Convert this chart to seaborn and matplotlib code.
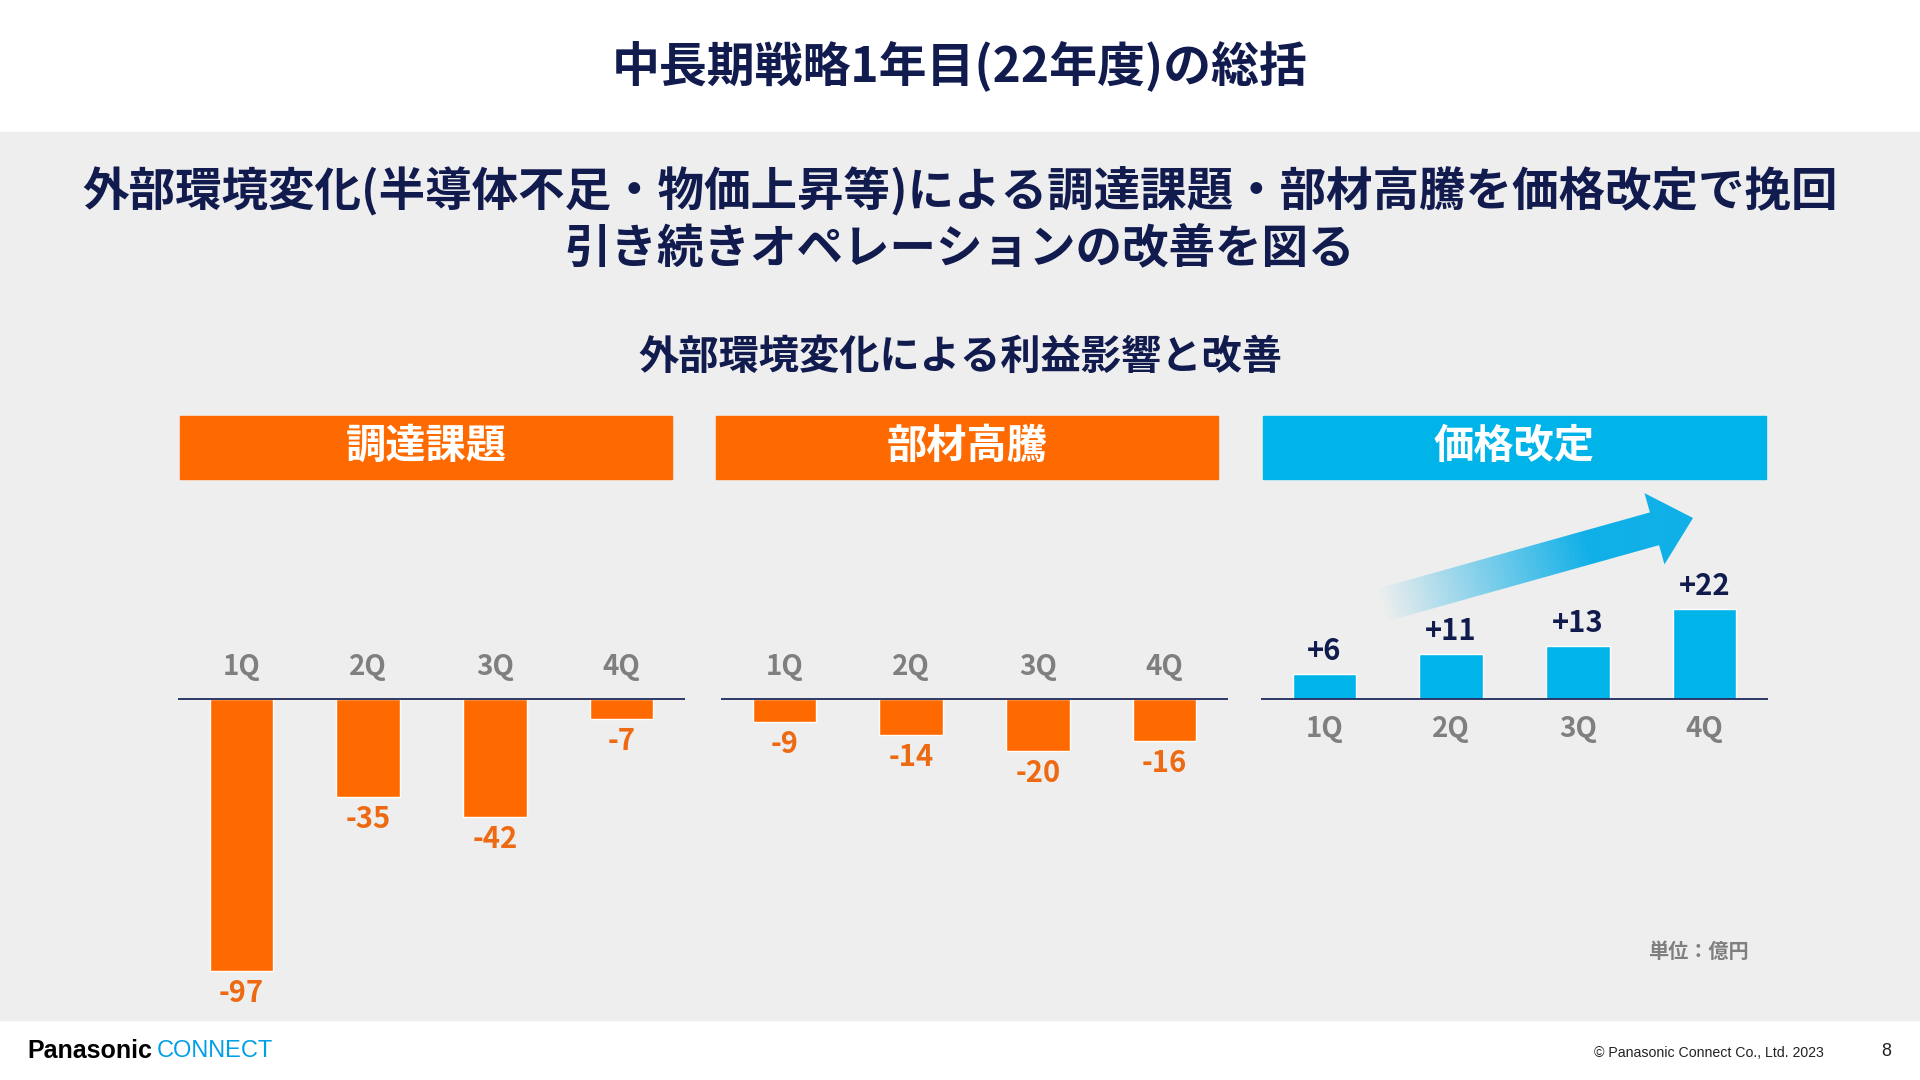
import numpy as np
import pandas as pd
import seaborn as sns
import matplotlib.pyplot as plt
from matplotlib.patches import Rectangle, Polygon

sns.set_theme(style="white")
plt.rcParams["font.family"] = ["Noto Sans CJK JP", "DejaVu Sans"]

# data
quarters = ["1Q", "2Q", "3Q", "4Q"]
procurement = [-97, -35, -42, -7]
materials = [-9, -14, -20, -16]
pricing = [6, 11, 13, 22]
panel_titles = ["調達課題", "部材高騰", "価格改定"]

title = "中長期戦略1年目(22年度)の総括"
subtitle = "外部環境変化(半導体不足・物価上昇等)による調達課題・部材高騰を価格改定で挽回\n引き続きオペレーションの改善を図る"
chart_title = "外部環境変化による利益影響と改善"
unit_note = "単位：億円"

NAVY = "#111B4E"
ORANGE = "#FF6A00"
ORANGE_TXT = "#EE6A12"
BLUE = "#00B4EA"
GRAY_TXT = "#7F7F7F"
BG = "#EEEEEE"

W, H = 1920, 1080


def rect(x, y, w, h):
    # pixel box (top-left origin) -> figure fraction
    return [x / W, 1 - (y + h) / H, w / W, h / H]


fig = plt.figure(figsize=(19.2, 10.8), dpi=100)
fig.patch.set_facecolor("white")

# overlay axes in pixel coords for decorations
ov = fig.add_axes([0, 0, 1, 1], zorder=0)
ov.set_xlim(0, W)
ov.set_ylim(H, 0)
ov.axis("off")
ov.add_patch(Rectangle((0, 132), W, 888, color=BG, zorder=0))

ov.text(W / 2, 66, title, ha="center", va="center", fontsize=34.5,
        fontweight="bold", color=NAVY)
ov.text(W / 2, 220, subtitle, ha="center", va="center", fontsize=33.5,
        fontweight="bold", color=NAVY, linespacing=1.2)
ov.text(W / 2, 357, chart_title, ha="center", va="center", fontsize=29,
        fontweight="bold", color=NAVY)

panels = [
    dict(values=procurement, color=ORANGE, x=178, scale=2.8, header=(180, 492)),
    dict(values=materials, color=ORANGE, x=721, scale=2.6, header=(716, 502)),
    dict(values=pricing, color=BLUE, x=1261, scale=4.1, header=(1263, 503)),
]

ax_top, ax_bot, zero_y = 480, 1012, 699

for i, p in enumerate(panels):
    hx, hw = p["header"]
    ov.add_patch(Rectangle((hx, 416), hw, 63, color=p["color"], zorder=1))
    ov.text(hx + hw / 2, 446, panel_titles[i], ha="center", va="center",
            fontsize=29, fontweight="bold", color="white", zorder=2)

    ax = fig.add_axes(rect(p["x"], ax_top, 507, ax_bot - ax_top), zorder=2)
    ax.patch.set_alpha(0)
    df = pd.DataFrame({"quarter": quarters, "value": p["values"]})
    sns.barplot(data=df, x="quarter", y="value", color=p["color"],
                width=0.5, saturation=1, ax=ax)
    s = p["scale"]
    ax.set_xlim(-0.5, 3.5)
    ax.set_ylim(-(ax_bot - zero_y) / s, (zero_y - ax_top) / s)
    ax.axhline(0, color="#1F2A5C", lw=1.3, zorder=3)
    ax.axis("off")

    positive = p["values"][0] > 0
    for j, (q, v) in enumerate(zip(quarters, p["values"])):
        if positive:
            ax.annotate(q, xy=(j, 0), xytext=(0, -30 * 0.72), textcoords="offset points",
                        ha="center", va="center", fontsize=20, fontweight="bold", color=GRAY_TXT)
            ax.annotate(f"+{v}", xy=(j, v), xytext=(0, 23 * 0.72), textcoords="offset points",
                        ha="center", va="center", fontsize=21, fontweight="bold", color=NAVY)
        else:
            ax.annotate(q, xy=(j, 0), xytext=(0, 32 * 0.72), textcoords="offset points",
                        ha="center", va="center", fontsize=20, fontweight="bold", color=GRAY_TXT)
            ax.annotate(f"{v}", xy=(j, v), xytext=(0, -22 * 0.72), textcoords="offset points",
                        ha="center", va="center", fontsize=21, fontweight="bold", color=ORANGE_TXT)

# gradient arrow over the pricing panel
arr = fig.add_axes([0, 0, 1, 1], zorder=3)
arr.set_xlim(0, W)
arr.set_ylim(H, 0)
arr.axis("off")
arr.patch.set_alpha(0)
S = np.array([1375.0, 607.0])
T = np.array([1693.0, 518.0])
u = (T - S) / np.linalg.norm(T - S)
n = np.array([-u[1], u[0]])
L = np.linalg.norm(T - S)
hb = S + u * (L - 40)
shaft, head = 17, 37
pts = [S + n * shaft, hb + n * shaft, hb + n * head, T,
       hb - n * head, hb - n * shaft, S - n * shaft]
poly = Polygon(pts, closed=True, facecolor="none", edgecolor="none")
arr.add_patch(poly)
x0, x1, y0, y1 = 1330, 1720, 460, 680
gx, gy = np.meshgrid(np.linspace(x0, x1, 400), np.linspace(y0, y1, 220))
t = ((gx - S[0]) * u[0] + (gy - S[1]) * u[1]) / L
alpha = np.clip((t - 0.02) / 0.65, 0, 1)
img = np.zeros(gx.shape + (4,))
img[..., 0] = 0x10 / 255
img[..., 1] = 0xB0 / 255
img[..., 2] = 0xE8 / 255
img[..., 3] = alpha
im = arr.imshow(img, extent=(x0, x1, y1, y0), origin="upper", aspect="auto")
im.set_clip_path(poly)
arr.set_xlim(0, W)
arr.set_ylim(H, 0)

ov.text(1749, 951, unit_note, ha="right", va="center", fontsize=14.5,
        fontweight="bold", color=GRAY_TXT)

# footer
ov.text(27, 1051, "Panasonic", ha="left", va="center", fontsize=18,
        fontweight="heavy", color="black", family="Liberation Sans")
ov.text(157, 1051, "CONNECT", ha="left", va="center", fontsize=17,
        color="#00A0E9", family="Liberation Sans")
ov.text(1824, 1053, "© Panasonic Connect Co., Ltd. 2023", ha="right", va="center",
        fontsize=10.2, color="#222222", family="Liberation Sans")
ov.text(1886, 1051, "8", ha="center", va="center", fontsize=13,
        color="#222222", family="Liberation Sans")

fig.savefig("out.png", dpi=100)
